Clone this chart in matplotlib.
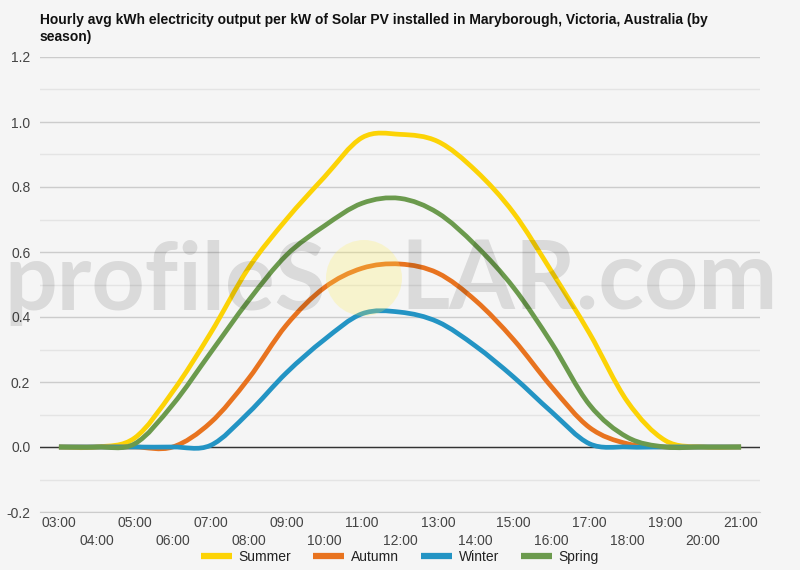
import matplotlib
matplotlib.use("Agg")
import matplotlib.pyplot as plt
from matplotlib.path import Path
from matplotlib.patches import PathPatch, Ellipse
from matplotlib.lines import Line2D
from matplotlib.ticker import MultipleLocator

hours = ["03:00", "04:00", "05:00", "06:00", "07:00", "08:00", "09:00", "10:00", "11:00", "12:00",
         "13:00", "14:00", "15:00", "16:00", "17:00", "18:00", "19:00", "20:00", "21:00"]

summer = [0.0, 0.0, 0.028, 0.17, 0.35, 0.55, 0.70, 0.83, 0.952, 0.962,
          0.94, 0.85, 0.72, 0.54, 0.35, 0.14, 0.02, 0.0, 0.0]
autumn = [0.0, 0.0, 0.0, 0.0, 0.075, 0.21, 0.375, 0.49, 0.55, 0.563,
          0.535, 0.45, 0.33, 0.185, 0.06, 0.01, 0.0, 0.0, 0.0]
winter = [0.0, 0.0, 0.0, 0.0, 0.005, 0.105, 0.228, 0.33, 0.41, 0.415,
          0.385, 0.31, 0.215, 0.108, 0.01, 0.0, 0.0, 0.0, 0.0]
spring = [0.0, 0.0, 0.01, 0.13, 0.29, 0.45, 0.59, 0.68, 0.75, 0.765,
          0.72, 0.62, 0.49, 0.32, 0.13, 0.03, 0.0, 0.0, 0.0]

series = [("Summer", summer, "#fcd305"),
          ("Autumn", autumn, "#e8731f"),
          ("Winter", winter, "#2394c4"),
          ("Spring", spring, "#6b9a4d")]

BG = "#f5f5f5"
plt.rcParams["font.family"] = ["Liberation Sans", "DejaVu Sans"]


def smooth_path(xs, ys, k=1 / 6):
    # Catmull-Rom style cubic bezier through every point
    verts = [(xs[0], ys[0])]
    codes = [Path.MOVETO]
    n = len(xs)
    for i in range(n - 1):
        a = max(i - 1, 0)
        d = min(i + 2, n - 1)
        c1 = (xs[i] + (xs[i + 1] - xs[a]) * k, ys[i] + (ys[i + 1] - ys[a]) * k)
        c2 = (xs[i + 1] - (xs[d] - xs[i]) * k, ys[i + 1] - (ys[d] - ys[i]) * k)
        verts += [c1, c2, (xs[i + 1], ys[i + 1])]
        codes += [Path.CURVE4] * 3
    return Path(verts, codes)


fig = plt.figure(figsize=(8, 5.7), dpi=100, facecolor=BG)
ax = fig.add_axes([0.05, 1 - 512 / 570, 0.90, (512 - 57) / 570])
ax.set_facecolor(BG)

x = list(range(len(hours)))
ax.set_xlim(-0.5, len(hours) - 0.5)
ax.set_ylim(-0.2, 1.2)

ax.yaxis.set_major_locator(MultipleLocator(0.2))
ax.yaxis.set_minor_locator(MultipleLocator(0.1))
ax.grid(axis="y", which="major", color="#cccccc", linewidth=1.0)
ax.grid(axis="y", which="minor", color="#e4e4e4", linewidth=1.0)
ax.axhline(0, color="#333333", linewidth=1.0, zorder=2)

for s in ["top", "right", "left"]:
    ax.spines[s].set_visible(False)
ax.spines["bottom"].set_color("#cccccc")
ax.tick_params(axis="y", which="both", length=0, pad=7, labelsize=10, labelcolor="#444444")
ax.set_yticklabels([f"{v:.1f}" for v in ax.get_yticks()])

ax.set_xticks(x)
ax.set_xticklabels([h if i % 2 == 0 else "\n" + h for i, h in enumerate(hours)],
                   fontsize=10, color="#444444", linespacing=1.35)
ax.tick_params(axis="x", length=0, pad=3)

handles = []
for name, vals, col in series:
    patch = PathPatch(smooth_path(x, vals), facecolor="none", edgecolor=col,
                      linewidth=3.4, capstyle="butt", joinstyle="round", zorder=3)
    ax.add_patch(patch)
    handles.append(Line2D([], [], color=col, linewidth=4.5, solid_capstyle="butt"))

# watermark drawn over the lines, semi transparent
wm_kw = dict(fontsize=66, color="black", alpha=0.11, family=["Lato", "DejaVu Sans"],
             fontweight="bold", va="baseline", ha="left", zorder=10)
wm1 = fig.text(4 / 800, 1 - 310 / 570, "profileS", **wm_kw)
wm2 = fig.text(400 / 800, 1 - 310 / 570, "LAR.com", **wm_kw)
fig.canvas.draw()
r = fig.canvas.get_renderer()
for t, target in [(wm1, 322), (wm2, 378)]:
    w = t.get_window_extent(r).width
    t.set_fontsize(66 * target / w)
fig.patches.append(Ellipse((364 / 800, 1 - 278 / 570), 76 / 800, 76 / 570, transform=fig.transFigure,
                           facecolor="#ffee58", alpha=0.25, edgecolor="none", zorder=9))

fig.text(40 / 800, 1 - 13 / 570,
         "Hourly avg kWh electricity output per kW of Solar PV installed in Maryborough, Victoria, Australia (by\nseason)",
         fontsize=10, fontweight="bold", color="#111111", va="top", ha="left", linespacing=1.3)

fig.legend(handles, [s[0] for s in series], loc="center", bbox_to_anchor=(0.5, 1 - 557 / 570),
           ncol=4, frameon=False, fontsize=10, handlelength=2.2, handletextpad=0.5,
           columnspacing=1.6, labelcolor="#222222")

fig.savefig("out.png", dpi=100, facecolor=BG)
